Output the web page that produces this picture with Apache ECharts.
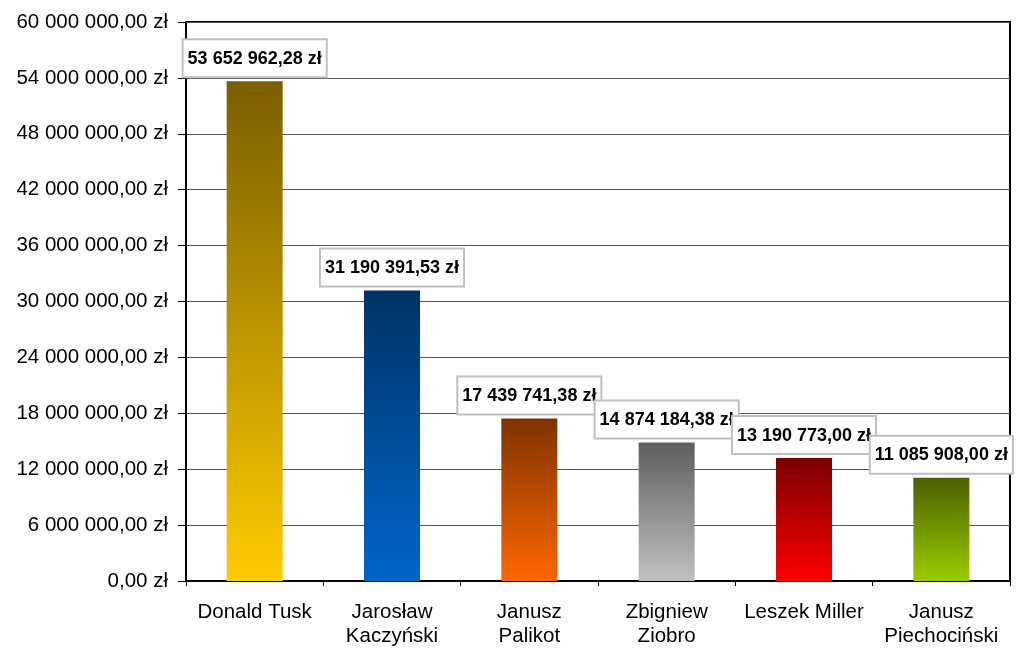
<!DOCTYPE html>
<html>
<head>
<meta charset="utf-8">
<script src="https://cdn.jsdelivr.net/npm/echarts@6/dist/echarts.min.js"></script>
<style>html,body{margin:0;padding:0;background:#fff;}#c{width:1017px;height:650px;}</style>
</head>
<body>
<div id="c"></div>
<script>
var categories = ["Donald Tusk", "Jarosław\nKaczyński", "Janusz\nPalikot", "Zbigniew\nZiobro", "Leszek Miller", "Janusz\nPiechociński"];
var values = [53652962.28, 31190391.53, 17439741.38, 14874184.38, 13190773.00, 11085908.00];
var topColors = ["#7a5e00", "#003366", "#7f3300", "#5e5e5e", "#7a0000", "#4b6100"];
var bottomColors = ["#ffcc00", "#0066cc", "#ff6600", "#c0c0c0", "#ff0000", "#99cc00"];
var yMin = 0, yMax = 60000000, yInterval = 6000000;

function fmt(v) {
  var s = v.toFixed(2);
  var parts = s.split(".");
  var intPart = parts[0].replace(/\B(?=(\d{3})+(?!\d))/g, " ");
  return intPart + "," + parts[1] + " zł";
}

var data = values.map(function (v, i) {
  return {
    value: v,
    itemStyle: {
      color: new echarts.graphic.LinearGradient(0, 0, 0, 1, [
        { offset: 0, color: topColors[i] },
        { offset: 1, color: bottomColors[i] }
      ])
    }
  };
});

var chart = echarts.init(document.getElementById("c"));
chart.setOption({
  animation: false,
  backgroundColor: "#ffffff",
  grid: { left: 186, right: 7, top: 22, bottom: 69, show: true, borderColor: "#000", borderWidth: 2, backgroundColor: "transparent" },
  xAxis: {
    type: "category",
    data: categories,
    axisLine: { lineStyle: { color: "#000", width: 2 } },
    axisTick: { show: true, length: 5, lineStyle: { color: "#000" } },
    axisLabel: { color: "#000", fontFamily: "Arial, Liberation Sans", fontSize: 20.5, margin: 19, lineHeight: 24, interval: 0 }
  },
  yAxis: {
    type: "value",
    min: yMin, max: yMax, interval: yInterval,
    axisLine: { show: true, lineStyle: { color: "#000", width: 2 } },
    axisTick: { show: true, length: 8, lineStyle: { color: "#000" } },
    axisLabel: { color: "#000", fontFamily: "Arial, Liberation Sans", fontSize: 20.5, margin: 18, formatter: function (v) { return fmt(v); } },
    splitLine: { show: true, lineStyle: { color: "#555", width: 1 } }
  },
  series: [{
    type: "bar",
    data: data,
    barWidth: 56,
    label: {
      show: true,
      position: "top",
      distance: 5,
      formatter: function (p) { return fmt(p.value); },
      color: "#000",
      fontFamily: "Arial, Liberation Sans",
      fontWeight: "bold",
      fontSize: 18,
      lineHeight: 19,
      backgroundColor: "#fff",
      borderColor: "#c0c0c0",
      borderWidth: 2,
      padding: [9, 4, 8, 4]
    }
  }]
});
</script>
</body>
</html>
